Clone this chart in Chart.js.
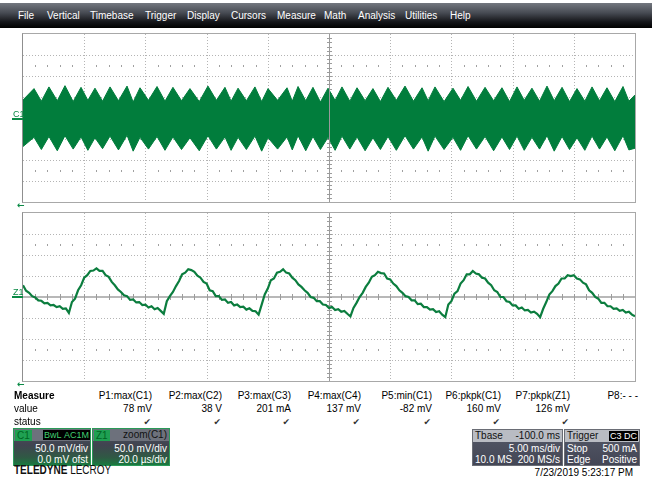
<!DOCTYPE html>
<html><head><meta charset="utf-8">
<script src="https://cdn.jsdelivr.net/npm/chart.js@4.4.1/dist/chart.umd.min.js"></script>
<style>
html,body{margin:0;padding:0;background:#fff;}
body{width:652px;height:480px;position:relative;overflow:hidden;font-family:"Liberation Sans",Arial,sans-serif;font-size:10px;color:#000;}
.a{position:absolute;white-space:nowrap;line-height:12px;}
#menu{position:absolute;left:0;top:3px;width:652px;height:25px;background:linear-gradient(#73777f 0%,#464a52 40%,#15161a 75%,#000 100%);}
#menu span{position:absolute;top:7px;color:#fff;font-size:10px;line-height:12px;}
.r{text-align:right;}
.chk{font-family:"DejaVu Sans";font-size:9px;color:#333;}
.box{position:absolute;height:36px;border:1px solid #2a9a58;background:linear-gradient(#4c505c 0%,#404450 45%,#2f5a44 80%,#197a40 100%);color:#fff;overflow:hidden;}
.band{position:absolute;left:0;top:0;right:0;height:12px;background:#6d717c;}
.lbl{position:absolute;top:1px;left:1px;height:11px;line-height:11px;padding:0 2px;background:#1fa052;color:#062;font-size:10px;}
.badge{position:absolute;top:1px;height:10px;line-height:10px;padding:0 1px;background:#000;color:#40d070;font-size:9px;}
.row{position:absolute;left:2px;right:2px;height:12px;line-height:12px;font-size:10px;}
.tb{position:absolute;height:35px;border:1px solid #6a6d75;background:linear-gradient(#555968,#434655);color:#fff;overflow:hidden;}
.tband{position:absolute;left:0;top:0;right:0;height:12px;background:#b9bcc3;color:#111;}
.mk{color:#0a8a45;font-size:9px;}
</style></head>
<body>
<div id="menu">
<span style="left:18px">File</span><span style="left:47px">Vertical</span><span style="left:90px">Timebase</span><span style="left:145px">Trigger</span><span style="left:187px">Display</span><span style="left:231px">Cursors</span><span style="left:277px">Measure</span><span style="left:324px">Math</span><span style="left:358px">Analysis</span><span style="left:405px">Utilities</span><span style="left:450px">Help</span>
</div>

<canvas id="top" width="615" height="171" style="position:absolute;left:22px;top:33px;"></canvas>
<canvas id="bot" width="615" height="171" style="position:absolute;left:22px;top:212px;"></canvas>

<div class="a mk" style="left:13px;top:108px;">C1</div>
<div style="position:absolute;left:12px;top:118px;width:11px;height:2px;background:#0a8a45;"></div>
<div class="a mk" style="left:17px;top:199px;font-family:'DejaVu Sans';font-weight:bold;">←</div>
<div class="a mk" style="left:13px;top:286px;">Z1</div>
<div style="position:absolute;left:12px;top:296px;width:11px;height:2px;background:#0a8a45;"></div>
<div class="a mk" style="left:17px;top:378px;font-family:'DejaVu Sans';font-weight:bold;">←</div>

<div id="meas"></div>

<div class="box" style="left:13px;top:428px;width:76px;">
 <div class="band"></div>
 <div class="lbl">C1</div>
 <div class="badge" style="left:29px;">BwL</div>
 <div class="badge" style="left:49px;">AC1M</div>
 <div class="row r" style="top:14px;">50.0 mV/div</div>
 <div class="row r" style="top:25px;">0.0 mV ofst</div>
</div>
<div class="box" style="left:92px;top:428px;width:76px;">
 <div class="band"></div>
 <div class="lbl">Z1</div>
 <div class="row r" style="top:0px;color:#111;">zoom(C1)</div>
 <div class="row r" style="top:14px;">50.0 mV/div</div>
 <div class="row r" style="top:25px;">20.0 µs/div</div>
</div>

<div class="tb" style="left:472px;top:429px;width:89px;">
 <div class="tband"></div>
 <div class="row" style="top:0;color:#111;">Tbase</div>
 <div class="row r" style="top:0;color:#111;">-100.0 ms</div>
 <div class="row r" style="top:13px;">5.00 ms/div</div>
 <div class="row" style="top:24px;">10.0 MS</div>
 <div class="row r" style="top:24px;">200 MS/s</div>
</div>
<div class="tb" style="left:564px;top:429px;width:74px;">
 <div class="tband"></div>
 <div class="row" style="top:0;color:#111;">Trigger</div>
 <div class="badge" style="left:44px;color:#fff;">C3</div>
 <div class="badge" style="left:58px;color:#fff;">DC</div>
 <div class="row" style="top:13px;">Stop</div>
 <div class="row r" style="top:13px;">500 mA</div>
 <div class="row" style="top:24px;">Edge</div>
 <div class="row r" style="top:24px;">Positive</div>
</div>

<div class="a" style="left:14px;top:463px;font-size:12.5px;line-height:14px;transform:scaleX(0.8);transform-origin:0 0;color:#111;"><b>TELEDYNE</b> LECROY</div>
<div class="a r" style="left:500px;width:133px;top:467px;">7/23/2019 5:23:17 PM</div>

<script>
// ---- Measurement table ----
const measNames  = ["P1:max(C1)","P2:max(C2)","P3:max(C3)","P4:max(C4)","P5:min(C1)","P6:pkpk(C1)","P7:pkpk(Z1)","P8:- - -"];
const measValues = ["78 mV","38 V","201 mA","137 mV","-82 mV","160 mV","126 mV",""];
const measStatus = [true,true,true,true,true,true,true,false];

// ---- C1 (top grid): envelope of the dense trace, time in ms, value in mV ----
const c1Time = [0,0.90,1.50,2.12,2.80,3.43,4.10,4.74,5.30,5.88,6.50,7.11,7.80,8.50,9.00,9.56,10.25,10.95,11.60,12.25,12.95,13.64,14.40,15.11,15.80,16.50,17.00,17.57,18.25,18.95,19.50,20.02,20.80,21.57,22.00,22.47,23.10,23.69,24.30,24.92,25.50,26.06,26.70,27.29,27.95,28.59,29.20,29.82,30.50,31.21,31.90,32.60,33.10,33.66,34.40,35.13,35.75,36.36,37.05,37.75,38.45,39.13,39.75,40.36,40.95,41.58,42.20,42.81,43.40,44.04,44.65,45.26,45.90,46.49,47.10,47.71,48.35,49.02,49.50,50.00];
const c1Upper = [43,70,40,74,41,77,39,73,42,71,40,74,41,76,38,72,42,75,40,73,41,70,39,76,42,73,40,71,41,74,39,70,42,72,40,75,41,73,38,71,42,74,40,72,41,70,39,73,42,76,40,72,41,74,39,71,42,75,40,73,41,72,39,74,42,71,40,76,41,73,39,70,40,74,41,72,39,75,40,55];
const c1Lower = [-68,-46,-75,-44,-78,-42,-74,-45,-77,-47,-73,-43,-76,-41,-79,-46,-74,-44,-77,-45,-75,-47,-78,-42,-74,-45,-77,-46,-75,-43,-79,-47,-74,-45,-76,-42,-78,-44,-75,-46,-77,-43,-74,-45,-78,-47,-75,-44,-77,-42,-74,-45,-79,-43,-75,-46,-77,-42,-74,-44,-78,-45,-75,-43,-77,-46,-74,-42,-79,-44,-75,-47,-77,-43,-74,-45,-78,-42,-76,-72];

// ---- Z1 (bottom grid): zoom trace, one sample per µs, value in mV ----
const z1StartUs = 0, z1StepUs = 1;
const z1Values = [28,15,10,2,-1,-8,-9,-15,-14,-20,-19,-24,-22,-28,-27,-38,-12,-4,16,28,
46,52,62,63,68,62,62,52,48,36,28,18,12,4,2,-7,-6,-13,-12,-19,
-18,-25,-22,-29,-26,-33,-40,-10,2,12,26,38,54,58,66,64,60,51,46,36,
32,16,14,2,2,-7,-6,-14,-12,-20,-18,-24,-23,-30,-27,-33,-34,-42,-18,6,
20,40,44,58,60,66,58,56,46,40,30,24,16,10,0,-2,-10,-10,-18,-19,
-26,-24,-31,-29,-35,-33,-40,-46,-26,-14,0,10,24,34,48,52,60,57,56,44,
42,32,26,16,10,2,0,-8,-8,-17,-16,-24,-24,-30,-29,-36,-34,-42,-48,-18,
-10,8,14,32,40,54,54,62,56,54,46,44,34,28,16,12,0,0,-10,-12,
-20,-20,-28,-25,-32,-31,-37,-35,-40,-48,-28,-12,6,14,26,32,44,44,52,50,
52,44,42,34,30,16,10,0,-4,-14,-14,-22,-22,-28,-27,-33,-31,-37,-35,-42,-46];

// build table
(function(){
  const rights=[152,222,291,361,432,501,570,638];
  let h='<div class="a" style="left:14px;top:390px;font-weight:bold;">Measure</div>'+
        '<div class="a" style="left:14px;top:403px;">value</div>'+
        '<div class="a" style="left:14px;top:416px;">status</div>';
  measNames.forEach((n,i)=>{
    const L=rights[i]-70;
    h+=`<div class="a r" style="left:${L}px;width:70px;top:390px;">${n}</div>`;
    h+=`<div class="a r" style="left:${L}px;width:70px;top:403px;">${measValues[i]}</div>`;
    if(measStatus[i]) h+=`<div class="a r chk" style="left:${L}px;width:69px;top:416px;">✔</div>`;
  });
  document.getElementById('meas').innerHTML=h;
})();

const GREEN='#017d3c';
function centerV(chart,o){
  const {ctx,chartArea:a,scales:{x}}=chart;
  const cx=Math.round(x.getPixelForValue(o.x0+5*o.dx))+0.5;
  ctx.strokeStyle='#9a9a9a';ctx.lineWidth=1;
  ctx.beginPath();ctx.moveTo(cx,a.top);ctx.lineTo(cx,a.bottom);ctx.stroke();
}
const gridPlugin={
  id:'scopeGrid',
  beforeDatasetsDraw(chart,args,o){
    const {ctx,chartArea:a,scales:{x,y}}=chart;
    ctx.save();
    ctx.strokeStyle='#b4b4b4';ctx.lineWidth=1;ctx.setLineDash([1,2]);
    for(let i=1;i<10;i++){ if(i===5) continue; const px=Math.round(x.getPixelForValue(o.x0+i*o.dx))+0.5;
      ctx.beginPath();ctx.moveTo(px,a.top);ctx.lineTo(px,a.bottom);ctx.stroke();}
    for(let j=-3;j<=3;j++){ if(j===0) continue; const py=Math.round(y.getPixelForValue(j*o.dy))+0.5;
      ctx.beginPath();ctx.moveTo(a.left,py);ctx.lineTo(a.right,py);ctx.stroke();}
    ctx.setLineDash([]);
    ctx.fillStyle='#a0a0a0';
    [2.5,-2.5].forEach(d=>{
      const py=Math.round(y.getPixelForValue(d*o.dy));
      for(let k=1;k<50;k++){ if(k%5===0) continue;
        const px=Math.round(x.getPixelForValue(o.x0+k*o.dx/5));
        ctx.fillRect(px,py-1,1,2);}
    });
    const cx=Math.round(x.getPixelForValue(o.x0+5*o.dx))+0.5;
    const cy=Math.round(y.getPixelForValue(0));
    ctx.strokeStyle='#b8b8b8';ctx.lineWidth=2;
    ctx.beginPath();ctx.moveTo(a.left,cy);ctx.lineTo(a.right,cy);ctx.stroke();
    ctx.fillStyle='#9c9c9c';
    for(let k=1;k<50;k++){ const px=Math.round(x.getPixelForValue(o.x0+k*o.dx/5)); ctx.fillRect(px,cy-3,1,6);}
    centerV(chart,o);
    for(let k=-19;k<20;k++){ const py=Math.round(y.getPixelForValue(k*o.dy/5)); ctx.fillRect(cx-2.5,py,5,1);}
    ctx.restore();
  },
  afterDatasetsDraw(chart,args,o){
    const {ctx,chartArea:a}=chart;
    ctx.save();
    if(o.overCenter) centerV(chart,o);
    ctx.strokeStyle='#a8a8a8';ctx.lineWidth=1;
    ctx.strokeRect(a.left-0.5,a.top-0.5,a.right-a.left+1,a.bottom-a.top+1);
    ctx.strokeStyle='#8f8f8f';
    ctx.beginPath();ctx.moveTo(a.left-0.5,a.top-0.5);ctx.lineTo(a.left-0.5,a.bottom+0.5);ctx.stroke();
    ctx.restore();
  }
};

function baseOpts(xmin,xmax,dx,over){
  return {
    responsive:false,animation:false,events:[],
    layout:{padding:{left:1,top:1,right:2,bottom:2}},
    plugins:{legend:{display:false},tooltip:{enabled:false},scopeGrid:{x0:xmin,dx:dx,dy:50,overCenter:over}},
    elements:{point:{radius:0},line:{tension:0}},
    scales:{
      x:{type:'linear',min:xmin,max:xmax,display:false},
      y:{type:'linear',min:-200,max:200,display:false}
    }
  };
}

new Chart(document.getElementById('top'),{
  type:'line',
  data:{datasets:[
    {data:c1Time.map((t,i)=>({x:t,y:c1Upper[i]})),borderColor:GREEN,borderWidth:1,fill:false},
    {data:c1Time.map((t,i)=>({x:t,y:c1Lower[i]})),borderColor:GREEN,borderWidth:1,backgroundColor:GREEN,fill:'-1'}
  ]},
  options:baseOpts(0,50,5,true),
  plugins:[gridPlugin]
});

new Chart(document.getElementById('bot'),{
  type:'line',
  data:{datasets:[
    {data:z1Values.map((v,i)=>({x:z1StartUs+i*z1StepUs,y:v})),borderColor:'#0b7d3e',borderWidth:2.2,fill:false}
  ]},
  options:baseOpts(0,200,20,false),
  plugins:[gridPlugin]
});
</script>
</body></html>
